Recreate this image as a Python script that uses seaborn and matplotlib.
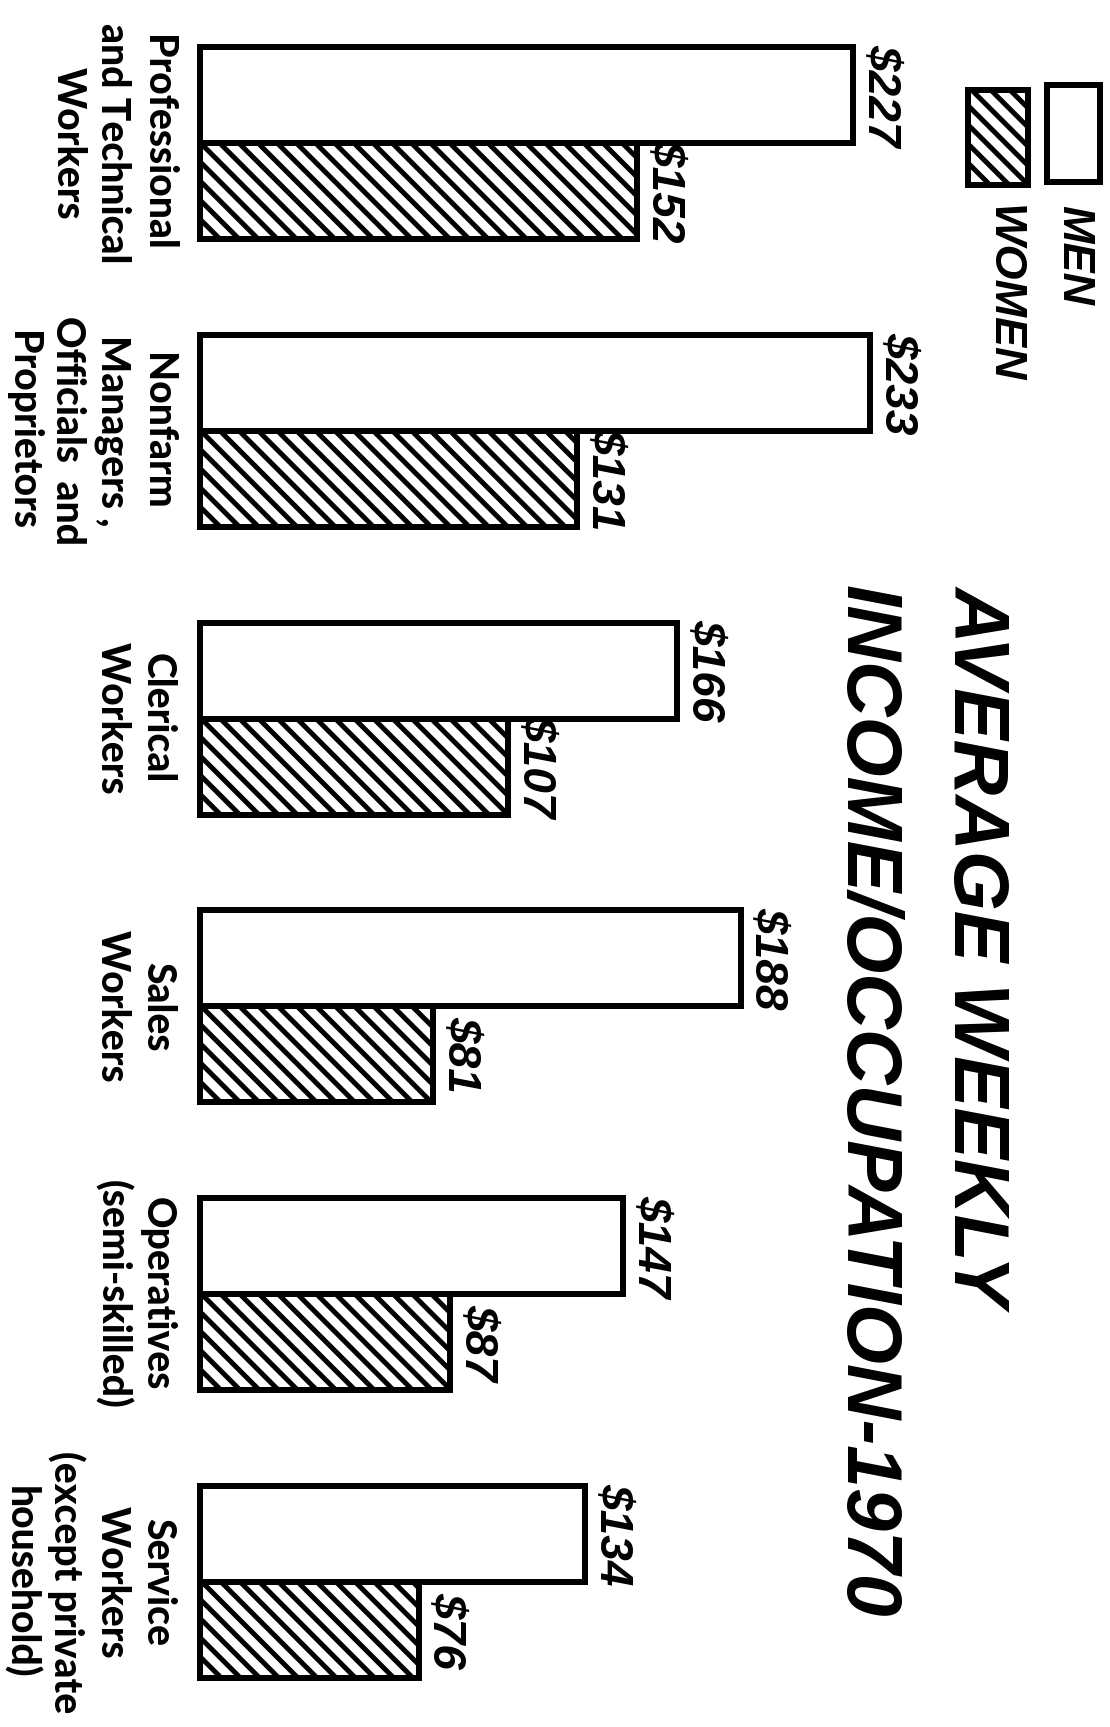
import numpy as np
import pandas as pd
import matplotlib
matplotlib.use("Agg")
import matplotlib.pyplot as plt
from matplotlib.patches import Rectangle
import seaborn as sns

# ---------------- data ----------------
categories = [
    "Professional\nand Technical\nWorkers",
    "Nonfarm\nManagers ,\nOfficials  and\nProprietors",
    "Clerical\nWorkers",
    "Sales\nWorkers",
    "Operatives\n(semi-skilled)",
    "Service\nWorkers\n(except private\nhousehold)",
]
men = [227, 233, 166, 188, 147, 134]
women = [152, 131, 107, 81, 87, 76]
series = ["MEN", "WOMEN"]
title = "AVERAGE WEEKLY\nINCOME/OCCUPATION-1970"

# ---------------- figure ----------------
W, H, DPI = 1110, 1727, 115


def pt(px):
    return px * 72.0 / DPI


sns.set_theme(style="white")
plt.rcParams["hatch.linewidth"] = pt(5)
plt.rcParams["hatch.color"] = "black"
plt.rcParams["text.color"] = "black"

fig = plt.figure(figsize=(W / DPI, H / DPI), dpi=DPI)
fig.patch.set_facecolor("white")
ax = fig.add_axes([0, 0, 1, 1])
ax.set_facecolor("white")

df = pd.DataFrame({
    "occupation": categories * 2,
    "income": men + women,
    "sex": [series[0]] * len(men) + [series[1]] * len(women),
})

sns.barplot(
    data=df, x="income", y="occupation", hue="sex",
    order=categories, hue_order=series, orient="h",
    palette={"MEN": "white", "WOMEN": "white"}, saturation=1,
    width=0.667, edgecolor="black", linewidth=pt(6),
    errorbar=None, legend=False, ax=ax,
)

HATCH = "\\\\"
for bar in ax.containers[1]:
    bar.set_hatch(HATCH)

x0_px, scale = 200.0, 2.875
ax.set_xlim(-x0_px / scale, (W - x0_px) / scale)
ax.set_ylim(5.504, -0.497)
ax.set_axis_off()

ital = dict(family="Liberation Sans", fontweight="bold", fontstyle="italic",
            color="black")

# value labels
for cont, vals in zip(ax.containers, [men, women]):
    for bar, v in zip(cont, vals):
        ax.annotate(
            f"${v}",
            xy=(bar.get_width(), bar.get_y() + bar.get_height() / 2),
            xytext=(5, 0), textcoords="offset pixels",
            rotation=-90, ha="left", va="center",
            fontsize=pt(46), **ital,
        )

# category labels
for i, lab in enumerate(categories):
    ax.annotate(
        lab, xy=(0, i), xytext=(-24, 0), textcoords="offset pixels",
        rotation=-90, ha="right", va="center", multialignment="center",
        fontsize=pt(39), fontweight="black", family="Lato", color="black",
        linespacing=1.26,
    )

# title
fig.text(1013 / W, 1 - 585 / H, title, rotation=-90, ha="right", va="top",
         multialignment="left", fontsize=pt(77), linespacing=1.65, **ital)

# legend
fig.patches.append(Rectangle((1047 / W, 1 - 182 / H), 53 / W, 97 / H,
                             transform=fig.transFigure, facecolor="white",
                             edgecolor="black", linewidth=pt(6)))
fig.patches.append(Rectangle((968 / W, 1 - 185 / H), 60 / W, 95 / H,
                             transform=fig.transFigure, facecolor="white",
                             edgecolor="black", linewidth=pt(6), hatch=HATCH))
fig.text(1074 / W, 1 - 205 / H, series[0], rotation=-90, ha="center", va="top",
         fontsize=pt(45), **ital)
fig.text(1003 / W, 1 - 205 / H, series[1], rotation=-90, ha="center", va="top",
         fontsize=pt(45), **ital)

fig.savefig("out.png", dpi=DPI, facecolor="white")
